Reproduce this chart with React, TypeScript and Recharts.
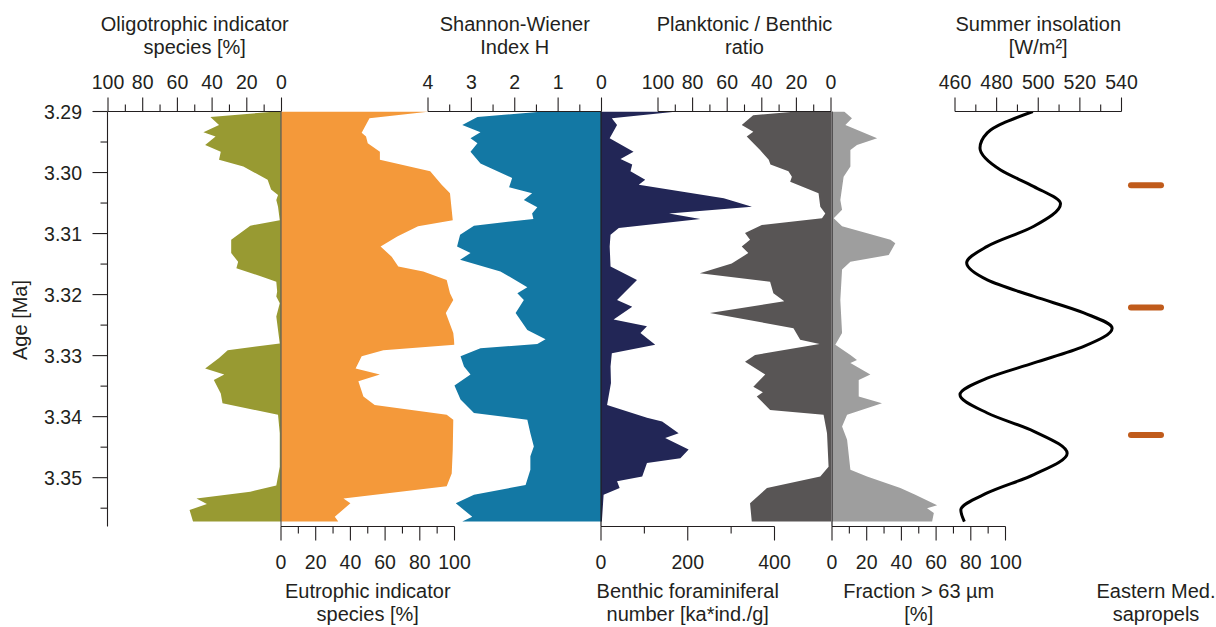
import React from "react";
import { ComposedChart, Area, Line, XAxis, YAxis, ReferenceArea, ReferenceLine } from "recharts";

// ---- shared layout ----
const CHART_H = 627;
const PLOT_TOP = 111.5;
const PLOT_BOTTOM = 526.5;
const AGE_DOMAIN: [number, number] = [3.29, 3.358];
const INK = "#231f20";
const FONT = "'Liberation Sans', Arial, Helvetica, sans-serif";

const OLIVE = "#989a32";
const ORANGE = "#f4993a";
const TEAL = "#1378a4";
const NAVY = "#222656";
const DARK_GREY = "#585555";
const LIGHT_GREY = "#9e9e9e";
const BAND = "#e3ecf5";
const SAPROPEL = "#c05b1b";

// ---- age axis ----
const ageTicks = [3.29, 3.295, 3.3, 3.305, 3.31, 3.315, 3.32, 3.325, 3.33, 3.335, 3.34, 3.345, 3.35, 3.355];
const bandStart = [3.29, 3.299, 3.3161, 3.34];
const bandEnd = [3.2908, 3.3081, 3.3281, 3.351];

// ---- oligotrophic indicator species [%] ----
const oligoAges = [3.29, 3.2909, 3.2922, 3.2934, 3.2941, 3.2955, 3.2966, 3.2979, 3.299, 3.3012, 3.3028, 3.3037, 3.3045, 3.3056, 3.3078, 3.3087, 3.311, 3.3132, 3.3146, 3.3157, 3.317, 3.3179, 3.3195, 3.3203, 3.3214, 3.3236, 3.328, 3.3291, 3.3304, 3.3321, 3.3331, 3.334, 3.3362, 3.3378, 3.3397, 3.3427, 3.3482, 3.3513, 3.3523, 3.3534, 3.3543, 3.3553, 3.3572];
const oligoPct = [3, 41, 36, 45, 38, 44, 35, 36, 22, 8, 6, 2, 3, 2, 1, 18, 29, 29, 25, 26, 12, 3, 2.5, 3, 1, 3, 1, 31, 36, 44, 33, 39, 35, 34, 2, 1, 1, 3, 18, 49, 43, 53, 51];

// ---- eutrophic indicator species [%] ----
const eutroAges = [3.29, 3.2911, 3.2935, 3.2941, 3.2952, 3.2966, 3.2979, 3.2998, 3.302, 3.3034, 3.3078, 3.3088, 3.3105, 3.3121, 3.3138, 3.3154, 3.3162, 3.3176, 3.3198, 3.3209, 3.323, 3.3263, 3.3282, 3.3291, 3.3301, 3.3321, 3.3331, 3.3342, 3.3367, 3.3381, 3.3397, 3.3405, 3.3454, 3.3493, 3.3514, 3.3534, 3.3542, 3.3564, 3.3572];
const eutroPct = [86, 51, 46.5, 49, 50, 57, 57, 86, 92.6, 97.4, 99, 79, 67, 57.4, 63.8, 67.6, 82, 95.5, 97.4, 99.3, 95, 99.3, 100, 59, 46.5, 43, 57, 44.6, 47.5, 54, 95.5, 99.3, 99, 98.4, 95.5, 36, 40, 31, 33];

// ---- Shannon-Wiener index H ----
const shannonAges = [3.29, 3.2909, 3.2922, 3.2934, 3.2944, 3.2952, 3.2966, 3.2985, 3.3009, 3.3024, 3.3034, 3.3045, 3.3057, 3.3067, 3.3076, 3.3087, 3.3102, 3.3121, 3.3132, 3.3143, 3.3162, 3.3188, 3.3198, 3.3209, 3.323, 3.3258, 3.3273, 3.3281, 3.3288, 3.3301, 3.3318, 3.3331, 3.3349, 3.3372, 3.3394, 3.3405, 3.3427, 3.3449, 3.3465, 3.3487, 3.3512, 3.3528, 3.3542, 3.3564, 3.3572];
const shannonH = [1.34, 2.86, 3.21, 2.79, 3.02, 2.86, 3.02, 2.79, 2.06, 2.13, 1.6, 1.79, 1.48, 1.6, 1.57, 2.94, 3.26, 3.33, 3.02, 3.26, 2.33, 1.71, 1.94, 1.79, 1.98, 1.71, 1.29, 1.48, 2.79, 3.25, 3.17, 3.02, 3.39, 3.25, 2.94, 1.71, 1.64, 1.56, 1.64, 1.64, 1.75, 2.94, 3.36, 2.98, 3.21];

// ---- benthic foraminiferal number [ka*ind./g] ----
const bfnAges = [3.29, 3.2911, 3.2922, 3.2944, 3.2966, 3.2978, 3.2987, 3.2998, 3.3012, 3.302, 3.3042, 3.3056, 3.3067, 3.3076, 3.3091, 3.3102, 3.3121, 3.3154, 3.3176, 3.3209, 3.322, 3.3241, 3.3252, 3.3263, 3.3282, 3.3296, 3.3318, 3.3345, 3.3381, 3.3402, 3.3408, 3.3427, 3.3435, 3.3454, 3.3468, 3.3476, 3.3498, 3.3506, 3.3517, 3.3528, 3.3572];
const bfnValues = [176, 25, 37, 20, 75, 45, 72, 68, 102, 87, 283, 348, 157, 229, 41, 22, 20, 22, 83, 37, 72, 29, 106, 91, 125, 25, 22, 23, 14, 106, 141, 179, 148, 202, 183, 106, 95, 37, 43, 6, 2];

// ---- planktonic / benthic ratio ----
const pbAges = [3.29, 3.2906, 3.2922, 3.2933, 3.2941, 3.2963, 3.2979, 3.2987, 3.2998, 3.3007, 3.3015, 3.3034, 3.3056, 3.3067, 3.3075, 3.3086, 3.3099, 3.311, 3.3121, 3.3132, 3.3149, 3.3165, 3.3179, 3.3198, 3.3211, 3.323, 3.3255, 3.3274, 3.3281, 3.3299, 3.331, 3.3331, 3.3351, 3.336, 3.3367, 3.3389, 3.3397, 3.3427, 3.3482, 3.3498, 3.3517, 3.3542, 3.3572];
const pbRatio = [20, 45, 51.6, 44.9, 48.7, 41, 36, 35, 24.6, 22.6, 23.6, 7.2, 6.2, 3.3, 5.2, 40, 49.7, 46.8, 51.6, 47.8, 57.4, 75.8, 35.2, 33.3, 27, 70, 21.7, 17.8, 6.6, 43.9, 49.7, 38, 44.9, 39.4, 42.9, 35.2, 4.3, 2.3, 1.4, 6.2, 37, 46.8, 45.8];

// ---- fraction > 63 µm [%] ----
const coarseAges = [3.29, 3.2911, 3.2922, 3.2944, 3.2955, 3.2963, 3.299, 3.3007, 3.3045, 3.3061, 3.3075, 3.3088, 3.311, 3.3116, 3.3135, 3.3146, 3.3159, 3.3209, 3.3263, 3.3282, 3.3299, 3.3307, 3.3312, 3.3331, 3.334, 3.3367, 3.3378, 3.3397, 3.3416, 3.3438, 3.3487, 3.3498, 3.3517, 3.3528, 3.3545, 3.355, 3.3558, 3.3572];
const coarsePct = [7, 11.5, 7.7, 26, 14.4, 10.6, 10.6, 6.7, 4.8, 5.8, 1, 5.8, 33.7, 36.5, 32.7, 10.6, 5.8, 4.8, 5.8, 1.9, 10.6, 14.4, 10.6, 22.1, 15.4, 15.4, 28.8, 8.7, 5.8, 8.7, 10.6, 20.2, 39.4, 48, 60.6, 54.8, 58.7, 57.7];

// ---- summer insolation [W/m²] ----
const insolAges = [3.29, 3.2935, 3.296, 3.2996, 3.3023, 3.3051, 3.3088, 3.3121, 3.3148, 3.3176, 3.3203, 3.323, 3.3255, 3.3285, 3.3312, 3.3337, 3.3364, 3.3394, 3.3424, 3.346, 3.3495, 3.3525, 3.3553, 3.3572];
const insolWm2 = [497.4, 475.5, 472, 481.9, 497.9, 510.7, 497.9, 475.5, 465.6, 475.5, 497.9, 521.9, 535.5, 521.9, 497.9, 475.5, 462.4, 475.5, 497.9, 513.9, 497.9, 475.5, 462.8, 464.5];

// ---- Eastern Mediterranean sapropels ----
const sapropelAges = [3.3021, 3.3221, 3.343];

// ---- tick sets ----
const pctTicks = [0, 10, 20, 30, 40, 50, 60, 70, 80, 90, 100];
const shannonTicks = [0, 0.5, 1, 1.5, 2, 2.5, 3, 3.5, 4];
const bfnTicks = [0, 100, 200, 300, 400];
const insolTicks = [460, 470, 480, 490, 500, 510, 520, 530, 540];

const rows = (ages: number[], vals: number[]) => ages.map((age, i) => ({ age, v: vals[i] }));

const textStyle = { fontFamily: FONT, fill: INK };

function AxisTick(props: any) {
  const { x, y, payload, side, isMajor } = props;
  const v = payload.value;
  const major = isMajor(v);
  const dir = side === "top" ? -1 : 1;
  const len = major ? 14 : 7;
  return (
    <g>
      <line x1={x} x2={x} y1={y} y2={y + dir * len} stroke={INK} strokeWidth={1.1} />
      {major && (
        <text x={x} y={side === "top" ? 89.3 : 569} textAnchor="middle" fontSize={19.5} style={textStyle}>
          {String(v)}
        </text>
      )}
    </g>
  );
}

function AgeTick(props: any) {
  const { x, y, payload } = props;
  const v = payload.value as number;
  const major = Math.round(v * 1000) % 10 === 0;
  return (
    <g>
      <line x1={x} x2={x - (major ? 15 : 7)} y1={y} y2={y} stroke={INK} strokeWidth={1.1} />
      {major && (
        <text x={82} y={y + 7} textAnchor="end" fontSize={19.5} style={textStyle}>
          {v.toFixed(2)}
        </text>
      )}
    </g>
  );
}

interface PanelProps {
  x0: number;
  x1: number;
  domain: [number, number];
  reversed?: boolean;
  side: "top" | "bottom";
  ticks: number[];
  isMajor: (v: number) => boolean;
  title: string[];
  titleDx?: number;
  showAxis?: boolean;
  data: { age: number; v: number }[];
  children?: React.ReactNode;
}

const PAD = 60;

function Panel({ x0, x1, domain, reversed, side, ticks, isMajor, title, titleDx = 0, showAxis = true, data, children }: PanelProps) {
  const axisH = 1;
  const w = x1 - x0;
  const margin = {
    left: PAD,
    right: PAD,
    top: side === "top" ? PLOT_TOP - axisH : PLOT_TOP,
    bottom: side === "bottom" ? CHART_H - PLOT_BOTTOM - axisH : CHART_H - PLOT_BOTTOM,
  };
  const cx = PAD + w / 2 + titleDx;
  const baselines = side === "top" ? [30.7, 53.7] : [598.3, 621.3];
  const titleLabel = () => (
    <text textAnchor="middle" fontSize={20} style={textStyle}>
      {title.map((line, i) => (
        <tspan key={i} x={cx} y={baselines[i]}>
          {line}
        </tspan>
      ))}
    </text>
  );
  return (
    <div style={{ position: "absolute", left: x0 - PAD, top: 0 }}>
      <ComposedChart layout="vertical" width={w + 2 * PAD} height={CHART_H} data={data} margin={margin}>
        <XAxis
          type="number"
          dataKey="v"
          orientation={side}
          domain={domain}
          reversed={reversed}
          allowDataOverflow
          ticks={ticks}
          interval={0}
          tickSize={0}
          tickMargin={0}
          height={axisH}
          axisLine={showAxis ? { stroke: INK, strokeWidth: 1.1 } : false}
          tickLine={false}
          tick={showAxis ? <AxisTick side={side} isMajor={isMajor} /> : () => <g />}
          label={titleLabel}
        />
        <YAxis type="number" dataKey="age" domain={AGE_DOMAIN} allowDataOverflow hide />
        {children}
      </ComposedChart>
    </div>
  );
}

const every20 = (v: number) => v % 20 === 0;
const wholeUnits = (v: number) => Number.isInteger(v);
const every200 = (v: number) => v % 200 === 0;

function Backdrop() {
  const left = 107.5;
  const axisW = 40;
  const ageLabel = () => (
    <text
      x={26.7}
      y={320}
      transform="rotate(-90, 26.7, 320)"
      textAnchor="middle"
      fontSize={20}
      style={textStyle}
    >
      Age [Ma]
    </text>
  );
  return (
    <div style={{ position: "absolute", left: 0, top: 0 }}>
      <ComposedChart
        layout="vertical"
        width={1188}
        height={CHART_H}
        data={[{ age: AGE_DOMAIN[0] }, { age: AGE_DOMAIN[1] }]}
        margin={{ left: left - axisW, right: 0, top: PLOT_TOP, bottom: CHART_H - PLOT_BOTTOM }}
      >
        <XAxis type="number" domain={[0, 1]} hide />
        <YAxis
          type="number"
          dataKey="age"
          domain={AGE_DOMAIN}
          allowDataOverflow
          width={axisW}
          ticks={ageTicks}
          interval={0}
          tickSize={0}
          tickMargin={0}
          axisLine={{ stroke: INK, strokeWidth: 1.1 }}
          tickLine={false}
          tick={<AgeTick />}
          label={ageLabel}
        />
        {bandStart.map((y1, i) => (
          <ReferenceArea key={i} y1={y1} y2={bandEnd[i]} fill={BAND} fillOpacity={1} stroke="none" />
        ))}
      </ComposedChart>
    </div>
  );
}

export default function App() {
  return (
    <div
      style={{
        position: "absolute",
        left: 0,
        top: 0,
        width: 1216,
        height: 627,
        background: "#fff",
        overflow: "hidden",
        fontFamily: FONT,
      }}
    >
      <Backdrop />

      <Panel x0={107.5} x1={281} domain={[0, 100]} reversed side="top" ticks={pctTicks} isMajor={every20}
        title={["Oligotrophic indicator", "species [%]"]} data={rows(oligoAges, oligoPct)}>
        <Area dataKey="v" type="linear" baseValue={0} fill={OLIVE} fillOpacity={1} stroke="none" isAnimationActive={false} />
      </Panel>

      <Panel x0={281} x1={454.5} domain={[0, 100]} side="bottom" ticks={pctTicks} isMajor={every20}
        title={["Eutrophic indicator", "species [%]"]} data={rows(eutroAges, eutroPct)}>
        <Area dataKey="v" type="linear" baseValue={0} fill={ORANGE} fillOpacity={1} stroke="none" isAnimationActive={false} />
        <ReferenceLine x={0} stroke="#5a5a5a" strokeWidth={1.2} />
      </Panel>

      <Panel x0={427.5} x1={601} domain={[0, 4]} reversed side="top" ticks={shannonTicks} isMajor={wholeUnits}
        title={["Shannon-Wiener", "Index H"]} data={rows(shannonAges, shannonH)}>
        <Area dataKey="v" type="linear" baseValue={0} fill={TEAL} fillOpacity={1} stroke="none" isAnimationActive={false} />
      </Panel>

      <Panel x0={600.5} x1={774} domain={[0, 400]} side="bottom" ticks={bfnTicks} isMajor={every200}
        title={["Benthic foraminiferal", "number [ka*ind./g]"]} data={rows(bfnAges, bfnValues)}>
        <Area dataKey="v" type="linear" baseValue={0} fill={NAVY} fillOpacity={1} stroke="none" isAnimationActive={false} />
        <ReferenceLine x={0} stroke={INK} strokeWidth={1.2} />
      </Panel>

      <Panel x0={658} x1={831} domain={[0, 100]} reversed side="top" ticks={pctTicks} isMajor={every20}
        title={["Planktonic / Benthic", "ratio"]} data={rows(pbAges, pbRatio)}>
        <Area dataKey="v" type="linear" baseValue={0} fill={DARK_GREY} fillOpacity={1} stroke="none" isAnimationActive={false} />
      </Panel>

      <Panel x0={831.5} x1={1005} domain={[0, 100]} side="bottom" ticks={pctTicks} isMajor={every20}
        title={["Fraction > 63 µm", "[%]"]} data={rows(coarseAges, coarsePct)}>
        <Area dataKey="v" type="linear" baseValue={0} fill={LIGHT_GREY} fillOpacity={1} stroke="none" isAnimationActive={false} />
        <ReferenceLine x={0} stroke={INK} strokeWidth={1.2} />
      </Panel>

      <Panel x0={954.5} x1={1121} domain={[460, 540]} side="top" ticks={insolTicks} isMajor={every20}
        title={["Summer insolation", "[W/m²]"]} data={rows(insolAges, insolWm2)}>
        <Line dataKey="v" type="monotone" stroke="#000" strokeWidth={3} dot={false} isAnimationActive={false} />
      </Panel>

      <Panel x0={1131} x1={1161} domain={[0, 1]} side="bottom" ticks={[0, 1]} isMajor={() => false} showAxis={false}
        titleDx={10} title={["Eastern Med.", "sapropels"]} data={sapropelAges.map((age) => ({ age, v: 0 }))}>
        {sapropelAges.map((age) => (
          <ReferenceLine
            key={age}
            segment={[{ x: 0, y: age }, { x: 1, y: age }]}
            stroke={SAPROPEL}
            strokeWidth={6}
            strokeLinecap="round"
          />
        ))}
      </Panel>
    </div>
  );
}
